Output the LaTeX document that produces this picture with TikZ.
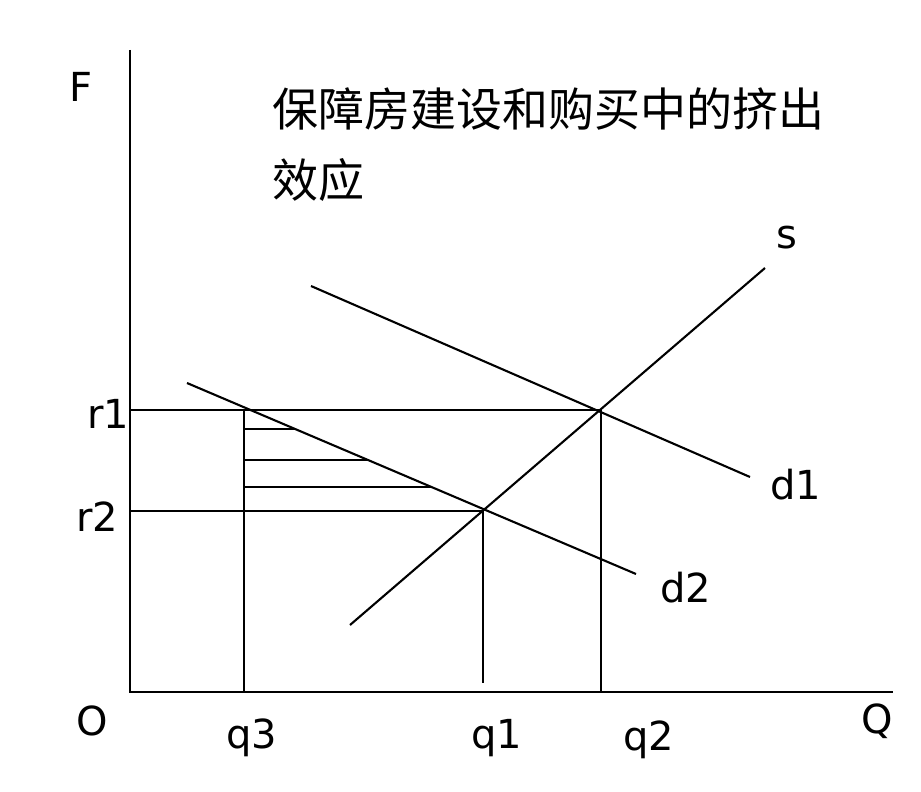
\documentclass[tikz,border=0pt]{standalone}
\usepackage{fontspec}
\setmainfont{DejaVu Sans}
\newfontfamily\cjk{Noto Sans CJK SC}
\begin{document}
\begin{tikzpicture}[x=1pt,y=-1pt,
  ln/.style={line width=2.1pt,black},
  lab/.style={font=\fontsize{40}{44}\selectfont,inner sep=0pt},
  ttl/.style={font=\cjk\fontsize{46}{71}\selectfont,inner sep=0pt,anchor=north west,align=left}]
\useasboundingbox (0,0) rectangle (921,792);
% axes
\coordinate (O) at (130,692);
\coordinate (ytop) at (130,50);
\coordinate (xend) at (893,692);
\draw[ln] (ytop) -- (O) -- (xend);
% curves
\coordinate (sA) at (350,625);
\coordinate (sB) at (765,268);
\coordinate (d1A) at (311,286);
\coordinate (d1B) at (750,477);
\coordinate (d2A) at (187,383);
\coordinate (d2B) at (636,574);
\draw[ln] (sA) -- (sB);
\draw[ln] (d1A) -- (d1B);
\draw[ln] (d2A) -- (d2B);
% levels
\coordinate (r1L) at (130,410);
\coordinate (r1R) at (601,410);
\coordinate (r2L) at (130,511);
\coordinate (r2R) at (483,511);
\coordinate (q3T) at (244,410);
\coordinate (q3B) at (244,692);
\coordinate (q2B) at (601,692);
\coordinate (q1B) at (483,683);
\draw[ln] (r1L) -- (r1R);
\draw[ln] (r2L) -- (r2R);
\draw[ln] (q3T) -- (q3B);
\draw[ln] (r1R) -- (q2B);
\draw[ln] (r2R) -- (q1B);
% hatching
\foreach \yy/\nm in {429/h1,460/h2,487/h3}{
  \coordinate (\nm L) at (244,\yy);
  \coordinate (\nm R) at (intersection of d2A--d2B and 244,\yy--600,\yy);
  \draw[ln] (\nm L) -- (\nm R);
}
% labels
\node[lab] (F) at (81,87) {F};
\node[lab] (Olab) at (92,721) {O};
\node[lab] (Q) at (877,721) {Q};
\node[lab] (r1) at (108,414) {r1};
\node[lab] (r2) at (97,517) {r2};
\node[lab] (q3) at (252,738) {q3};
\node[lab] (q1) at (497,738) {q1};
\node[lab] (q2) at (649,740) {q2};
\node[lab] (s) at (787,238) {s};
\node[lab] (d1) at (796,485) {d1};
\node[lab] (d2) at (686,588) {d2};
\node[ttl] (title) at (272,87) {保障房建设和购买中的挤出\\效应};
\end{tikzpicture}
\end{document}
